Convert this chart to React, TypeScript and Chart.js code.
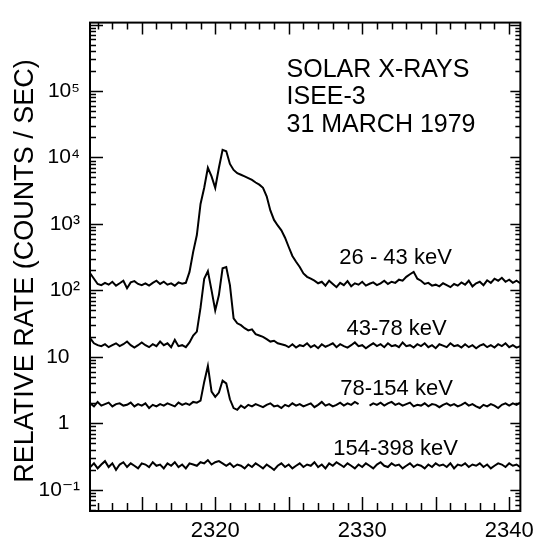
import { useEffect, useRef } from "react";
import { Chart, registerables } from "chart.js";

Chart.register(...registerables);

// Sample times (day-of-year style units on the original axis)
const times = [
  2311.5, 2311.75, 2312, 2312.25, 2312.5, 2312.75, 2313, 2313.25, 2313.5, 2313.75,
  2314, 2314.25, 2314.5, 2314.75, 2315, 2315.25, 2315.5, 2315.75, 2316, 2316.25,
  2316.5, 2316.75, 2317, 2317.25, 2317.5, 2317.75, 2318, 2318.25, 2318.5, 2318.75,
  2319, 2319.25, 2319.5, 2319.75, 2320, 2320.25, 2320.5, 2320.75, 2321, 2321.25,
  2321.5, 2321.75, 2322, 2322.25, 2322.5, 2322.75, 2323, 2323.25, 2323.5, 2323.75,
  2324, 2324.25, 2324.5, 2324.75, 2325, 2325.25, 2325.5, 2325.75, 2326, 2326.25,
  2326.5, 2326.75, 2327, 2327.25, 2327.5, 2327.75, 2328, 2328.25, 2328.5, 2328.75,
  2329, 2329.25, 2329.5, 2329.75, 2330, 2330.25, 2330.5, 2330.75, 2331, 2331.25,
  2331.5, 2331.75, 2332, 2332.25, 2332.5, 2332.75, 2333, 2333.25, 2333.5, 2333.75,
  2334, 2334.25, 2334.5, 2334.75, 2335, 2335.25, 2335.5, 2335.75, 2336, 2336.25,
  2336.5, 2336.75, 2337, 2337.25, 2337.5, 2337.75, 2338, 2338.25, 2338.5, 2338.75,
  2339, 2339.25, 2339.5, 2339.75, 2340, 2340.25, 2340.5, 2340.75,
];

const rate26to43 = [
  180, 150, 125, 120, 130, 122, 135, 118, 128, 140,
  108, 132, 138, 125, 120, 128, 118, 130, 140, 125,
  135, 122, 128, 118, 132, 126, 130, 190, 380, 680,
  2000, 3500, 7000, 5200, 3500, 7000, 13000, 12400, 8000, 6500,
  5800, 5500, 5200, 4900, 4600, 4200, 3900, 3500, 2600, 1600,
  1150, 950, 800, 620, 450, 330, 270, 225, 180, 160,
  150, 140, 128, 135, 118, 140, 125, 112, 130, 120,
  138, 115, 128, 122, 135, 118, 126, 132, 120, 128,
  140, 125, 135, 130, 145, 140, 160, 175, 190, 150,
  140, 125, 130, 118, 122, 115, 128, 120, 112, 125,
  118, 132, 122, 140, 115, 128, 135, 120, 142, 130,
  150, 140, 155, 135, 145, 130, 140, 128,
];

const rate43to78 = [
  19, 16, 15, 14.5, 15.5, 14, 15, 16, 14.5, 15.5,
  17, 15, 13.8, 15, 16.5, 15, 14, 15.5, 14.5, 17,
  15, 16, 14, 18, 14.5, 15, 14, 16.5, 21, 24,
  55, 150, 195, 100, 50, 85, 215, 225, 120, 38,
  32, 30, 27, 25, 26, 22, 21, 20, 18.5, 17,
  17.5, 16, 15.5, 15, 14, 15.5, 13.8, 15, 14.5, 16,
  14, 15, 13.5, 15.5, 14.2, 15, 16, 14, 15.5, 14.5,
  13.8, 15, 16.5, 14.5, 15, 13.5, 14.8, 16, 14.5, 15.5,
  14, 16, 14.5, 15, 14, 16.5, 14.5, 15, 13.8, 15.5,
  14.5, 16, 14, 15, 13.5, 15.5, 14.8, 14, 16, 14.5,
  15, 13.8, 15.5, 14, 15, 13.5, 14.8, 15.5, 14, 15,
  13.8, 15.5, 14.5, 16, 14, 15, 13.8, 14.5,
];

const rate78to154 = [
  2.0, 1.8, 2.1, 1.85, 1.95, 2.05, 1.8, 1.95, 2.0, 1.85,
  1.9, 2.05, 1.8, 1.95, 1.85, 2.0, 1.7, 1.9, 1.8, 1.95,
  1.85, 2.0, 1.9, 1.8, 2.05, 1.9, 2.0, 1.9, 2.1, 2.05,
  2.2, 4.2, 7.3, 3.0, 2.5, 2.9, 4.4, 4.0, 2.3, 1.7,
  1.6, 1.85, 1.7, 1.9, 1.8, 1.95, 1.85, 1.75, 1.9, 2.0,
  1.8, 1.85, 1.7, 1.9, 1.8, 2.0, 1.85, 1.95, 1.8, 1.9,
  2.0, 1.75, 1.9, 2.1, 1.85, 1.95, 1.8, 1.9, 2.05, 1.85,
  2.0, 1.9, 2.1, 1.95, null, null, 1.85, 2.0, 1.9, 2.05,
  1.85, 2.0, 2.1, 1.9, 2.0, 1.85, 1.95, 2.05, 1.8, 1.9,
  1.85, 2.0, 1.8, 1.95, 1.9, 1.75, 1.9, 2.0, 1.85, 1.95,
  1.8, 1.9, 2.05, 1.85, 1.95, 1.8, 1.7, 1.9, 1.8, 1.95,
  1.85, 1.7, 1.9, 2.0, 1.85, 2.0, 1.9, 2.05,
];

const rate154to398 = [
  0.22, 0.25, 0.21, 0.24, 0.27, 0.22, 0.25, 0.2, 0.24, 0.26,
  0.22, 0.25, 0.23, 0.21, 0.25, 0.24, 0.22, 0.26, 0.23, 0.24,
  0.21, 0.25, 0.23, 0.26, 0.22, 0.24, 0.21, 0.25, 0.24, 0.23,
  0.26, 0.25, 0.28, 0.24, 0.26, 0.27, 0.25, 0.23, 0.25, 0.22,
  0.24, 0.23, 0.21, 0.24, 0.22, 0.25, 0.23, 0.21, 0.24, 0.22,
  0.2, 0.23, 0.25, 0.22, 0.24, 0.21, 0.23, 0.25, 0.22, 0.24,
  0.23, 0.26, 0.22, 0.24, 0.21, 0.25, 0.23, 0.26, 0.24, 0.22,
  0.25, 0.23, 0.21, 0.24, 0.22, 0.25, 0.23, 0.21, 0.24, 0.26,
  0.23, 0.22, 0.25, 0.23, 0.24, 0.21, 0.23, 0.25, 0.22, 0.24,
  0.23, 0.21, 0.24, 0.22, 0.25, 0.23, 0.24, 0.22, 0.25, 0.21,
  0.24, 0.23, 0.25, 0.22, 0.24, 0.23, 0.25, 0.22, 0.24, 0.21,
  0.23, 0.25, 0.24, 0.22, 0.25, 0.23, 0.24, 0.22,
];

const seriesLabels = ["26 - 43 keV", "43-78 keV", "78-154 keV", "154-398 keV"];
const yTickValues = [0.1, 1, 10, 100, 1000, 10000, 100000];
const yTickLabels = ["10\u207B\u00B9", "1\u2002", "10\u2002", "10\u00B2", "10\u00B3", "10\u2074", "10\u2075"];
const xTickValues = [2320, 2330, 2340];
const titleLines = ["SOLAR X-RAYS", "ISEE-3", "31 MARCH 1979"];
const yAxisTitle = "RELATIVE RATE (COUNTS / SEC)";

const FONT = "'Liberation Sans', 'DejaVu Sans', Arial, sans-serif";

// Annotation placement in data coordinates (x = time, y = rate)
const seriesLabelAnchors = [
  { x: 2332.27, y: 252 },
  { x: 2332.34, y: 21.4 },
  { x: 2332.34, y: 2.64 },
  { x: 2332.27, y: 0.337 },
];
const titleAnchors = [
  { x: 2324.85, y: 165000 },
  { x: 2324.85, y: 64000 },
  { x: 2324.85, y: 24000 },
];

const decorPlugin = {
  id: "decor",
  afterDraw(chart: any) {
    const { ctx, chartArea: a, scales } = chart;
    const xs = scales.x;
    const ys = scales.y;
    ctx.save();
    ctx.strokeStyle = "#000";
    ctx.lineWidth = 2;
    ctx.strokeRect(a.left, a.top, a.right - a.left, a.bottom - a.top);

    ctx.lineWidth = 1.5;
    ctx.beginPath();
    for (let t = Math.ceil(xs.min); t <= xs.max; t++) {
      const px = Math.round(xs.getPixelForValue(t)) + 0.5;
      const major = t % 5 === 0;
      ctx.moveTo(px, a.bottom);
      ctx.lineTo(px, a.bottom - (major ? 14 : 8));
      ctx.moveTo(px, a.top);
      ctx.lineTo(px, a.top + (major ? 12 : 7));
    }
    for (let e = -2; e <= 6; e++) {
      for (let k = 1; k <= 9; k++) {
        const v = k * Math.pow(10, e);
        if (v < ys.min || v > ys.max) continue;
        const py = Math.round(ys.getPixelForValue(v)) + 0.5;
        const major = k === 1;
        ctx.moveTo(a.left, py);
        ctx.lineTo(a.left + (major ? 13 : 6), py);
        ctx.moveTo(a.right, py);
        ctx.lineTo(a.right - (major ? 10 : 5), py);
      }
    }
    ctx.stroke();

    ctx.fillStyle = "#000";
    // y axis title
    ctx.save();
    ctx.translate(33, 271);
    ctx.rotate(-Math.PI / 2);
    ctx.font = `27px ${FONT}`;
    ctx.textAlign = "center";
    ctx.textBaseline = "alphabetic";
    ctx.fillText(yAxisTitle, 0, 0);
    ctx.restore();

    // title block
    ctx.font = `25px ${FONT}`;
    ctx.textAlign = "left";
    ctx.textBaseline = "alphabetic";
    titleLines.forEach((txt, i) => {
      const p = titleAnchors[i];
      ctx.fillText(txt, xs.getPixelForValue(p.x), ys.getPixelForValue(p.y));
    });

    // series labels
    ctx.font = `22px ${FONT}`;
    ctx.textAlign = "center";
    seriesLabels.forEach((txt, i) => {
      const p = seriesLabelAnchors[i];
      ctx.fillText(txt, xs.getPixelForValue(p.x), ys.getPixelForValue(p.y));
    });
    ctx.restore();
  },
};

export default function App() {
  const ref = useRef<HTMLCanvasElement | null>(null);

  useEffect(() => {
    document.body.style.margin = "0";
    const canvas = ref.current;
    if (!canvas) return;
    const allSeries = [rate26to43, rate43to78, rate78to154, rate154to398];
    const chart = new Chart(canvas, {
      type: "line",
      data: {
        datasets: allSeries.map((s, k) => ({
          label: seriesLabels[k],
          data: times.map((t, i) => ({ x: t, y: s[i] })),
          borderColor: "#000",
          borderWidth: 2,
          pointRadius: 0,
          tension: 0,
          spanGaps: false,
          fill: false,
        })),
      },
      options: {
        animation: false,
        responsive: false,
        devicePixelRatio: 1,
        layout: { padding: { top: 10, right: 13, left: 0, bottom: 0 } },
        plugins: {
          legend: { display: false },
          tooltip: { enabled: false },
        },
        scales: {
          x: {
            type: "linear",
            position: "bottom",
            min: 2311.48,
            max: 2340.76,
            grid: { display: false, drawTicks: false },
            border: { display: false },
            afterFit: (s: any) => {
              s.height = 33;
            },
            afterBuildTicks: (s: any) => {
              s.ticks = xTickValues.map((v) => ({ value: v }));
            },
            ticks: {
              autoSkip: false,
              maxRotation: 0,
              padding: 7,
              color: "#000",
              font: { family: FONT, size: 22 },
              callback: (v: any) => String(v),
            },
          },
          y: {
            type: "logarithmic",
            min: 0.048,
            max: 1070000,
            grid: { display: false, drawTicks: false },
            border: { display: false },
            afterFit: (s: any) => {
              s.width = 90;
            },
            afterBuildTicks: (s: any) => {
              s.ticks = yTickValues.map((v) => ({ value: v }));
            },
            ticks: {
              autoSkip: false,
              padding: 10,
              color: "#000",
              font: { family: FONT, size: 21 },
              callback: (v: any) => {
                const idx = yTickValues.findIndex((t) => Math.abs(Math.log10(t) - Math.log10(v)) < 1e-6);
                return idx >= 0 ? yTickLabels[idx] : "";
              },
            },
          },
        },
      },
      plugins: [decorPlugin],
    });
    return () => chart.destroy();
  }, []);

  return (
    <div style={{ width: 541, height: 544 }}>
      <canvas ref={ref} width={541} height={544} style={{ display: "block", width: 541, height: 544 }} />
    </div>
  );
}
